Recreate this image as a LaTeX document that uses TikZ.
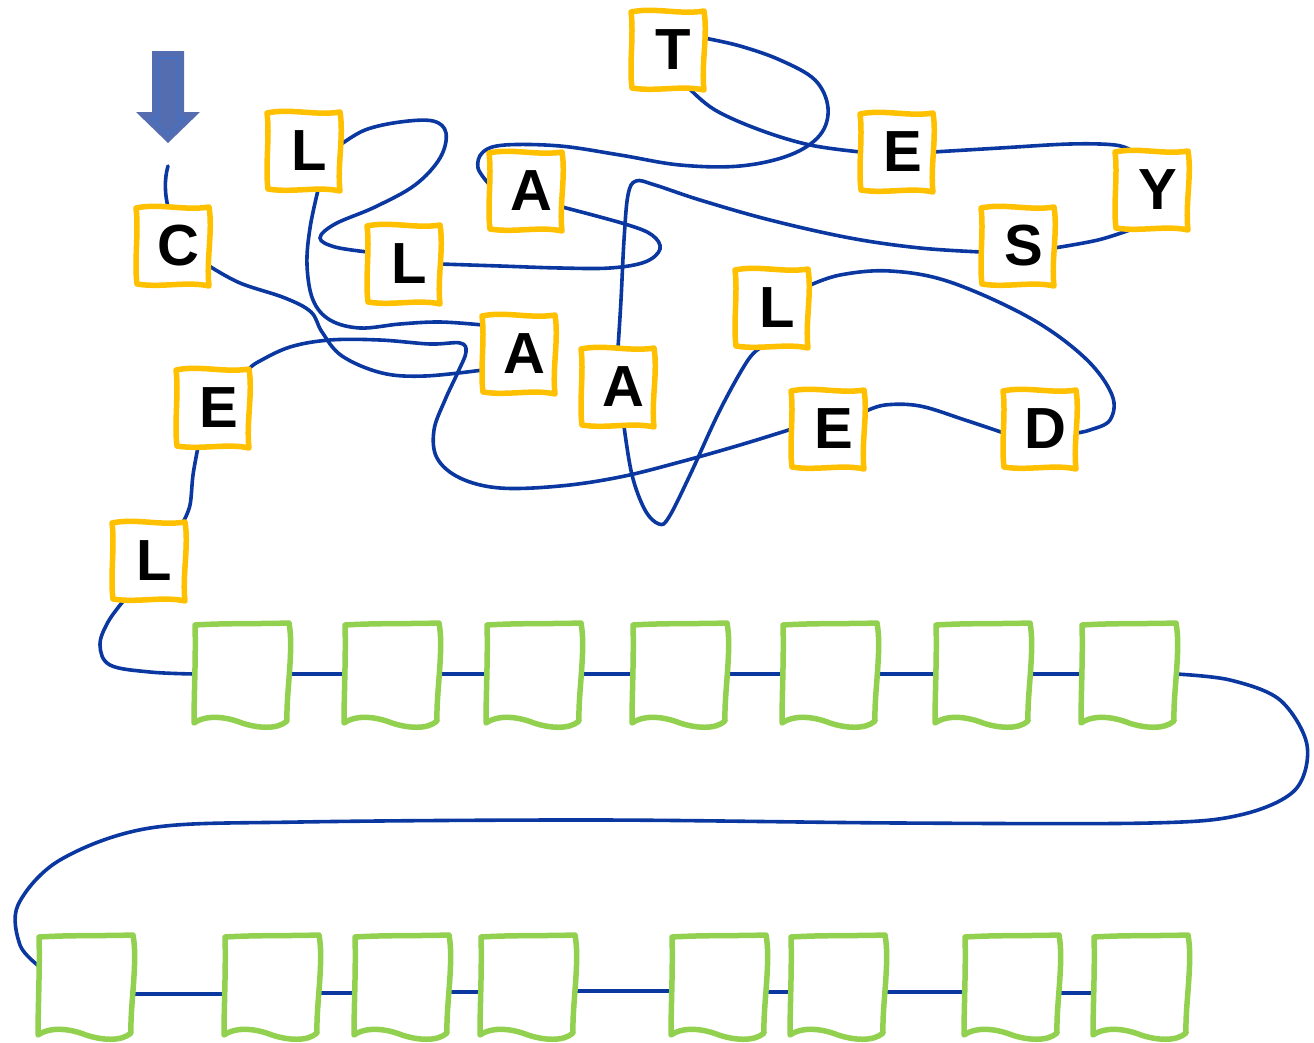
\documentclass[tikz,border=0pt]{standalone}
\usepackage{fontspec}
\setmainfont{Liberation Sans}
\usetikzlibrary{calc}
\definecolor{chain}{RGB}{10,55,160}
\definecolor{ybord}{RGB}{255,192,0}
\definecolor{gbord}{RGB}{146,208,80}
\definecolor{arrfill}{RGB}{84,108,176}
\definecolor{arrline}{RGB}{68,114,196}
\pgfdeclarelayer{bg}
\pgfdeclarelayer{boxes}
\pgfsetlayers{bg,boxes,main}
\tikzset{
  letter/.style={minimum width=72pt, minimum height=78pt, inner sep=0pt, font=\fontsize{58}{62}\selectfont\bfseries},
  slot/.style={minimum width=94pt, minimum height=102pt, inner sep=0pt},
  chainline/.style={draw=chain, line width=3.6pt, line cap=round},
  yframe/.style={draw=ybord, line width=5.5pt, fill=white, line join=round},
  gframe/.style={draw=gbord, line width=5.5pt, fill=white, line join=round},
}
\newcommand\drawYbox[1]{\begin{scope}[shift={(#1.center)}]
  \path[yframe] (-37,-38) .. controls (-14,-43) and (12,-35) .. (36,-39)
    .. controls (40,-15) and (33,15) .. (36,40)
    .. controls (14,35) and (-12,42) .. (-36,38)
    .. controls (-39,15) and (-34,-15) .. cycle;
\end{scope}}
\newcommand\drawGbox[1]{\begin{scope}[shift={(#1.center)}]
  \path[gframe] (-47,-49) .. controls (-15,-51) and (15,-50) .. (47,-51)
    .. controls (52,-25) and (44,20) .. (45,47)
    .. controls (35,56) and (15,54) .. (0,49)
    .. controls (-15,43) and (-35,40) .. (-48,49)
    .. controls (-48,20) and (-46,-20) .. cycle;
\end{scope}}
\newcommand\ltr[1]{\raisebox{-7pt}{\hspace*{11pt}#1}}
\begin{document}
\begin{tikzpicture}[x=1pt,y=-1pt]
\useasboundingbox (0,0) rectangle (1314,1042);
% letter nodes
\node[letter] (C)  at (173,246) {\ltr{C}};
\node[letter] (L1) at (304,151) {\ltr{L}};
\node[letter] (L2) at (404,264) {\ltr{L}};
\node[letter] (A1) at (526,191) {\ltr{A}};
\node[letter] (T)  at (668,50)  {\ltr{T}};
\node[letter] (E1) at (897,152) {\ltr{E}};
\node[letter] (Y)  at (1152,190) {\ltr{Y}};
\node[letter] (S)  at (1018,246) {\ltr{S}};
\node[letter] (L3) at (772,308) {\ltr{L}};
\node[letter] (A2) at (519,354) {\ltr{A}};
\node[letter] (A3) at (618,387) {\ltr{A}};
\node[letter] (E2) at (828,429) {\ltr{E}};
\node[letter] (D)  at (1040,429) {\ltr{D}};
\node[letter] (E3) at (213,408) {\ltr{E}};
\node[letter] (L4) at (149,561) {\ltr{L}};
% empty slots
\node[slot] (G1) at (242,674) {};
\node[slot] (G2) at (392,674) {};
\node[slot] (G3) at (534,674) {};
\node[slot] (G4) at (680,674) {};
\node[slot] (G5) at (830,674) {};
\node[slot] (G6) at (983,674) {};
\node[slot] (G7) at (1129,674) {};
\node[slot] (B1) at (86,986) {};
\node[slot] (B2) at (272,986) {};
\node[slot] (B3) at (402,986) {};
\node[slot] (B4) at (528,986) {};
\node[slot] (B5) at (719,986) {};
\node[slot] (B6) at (838,986) {};
\node[slot] (B7) at (1012,986) {};
\node[slot] (B8) at (1141,986) {};
% start arrow
\fill[arrfill] (152,51) -- (184,51) -- (184,112) -- (200,112) -- (168,143) -- (136,112) -- (152,112) -- cycle;
\draw[arrline, line width=1.5pt] (159,58) -- (177,58) -- (177,118) -- (185,118) -- (168,135) -- (151,118) -- (159,118) -- cycle;
\coordinate (start) at (168,166);
\begin{pgfonlayer}{bg}
\draw[chainline] (start) .. controls (164,180) and (165,195) .. ([xshift=-5pt]C.north);
% C -> A2
\draw[chainline] plot[smooth, tension=0.6] coordinates {([yshift=-20pt]C.east) (240,283) (285,298) (311,312) (322,332) (342,356) (382,373) (425,376) ([yshift=-16pt]A2.west)};
% A2 -> L1
\draw[chainline] plot[smooth, tension=0.6] coordinates {([yshift=29pt]A2.west) (440,322) (400,324) (360,328) (330,320) (313,300) (307,265) (310,228) ([xshift=14pt]L1.south)};
% L1 -> L2
\draw[chainline] plot[smooth, tension=0.6] coordinates {([yshift=6pt]L1.east) (365,130) (400,122) (433,121) (446,133) (440,158) (415,185) (375,207) (335,224) (320,238) (335,247) ([yshift=12pt]L2.west)};
% L2 -> A1
\draw[chainline] plot[smooth, tension=0.6] coordinates {(L2.east) (500,266) (560,268) (610,268) (645,262) (660,249) (652,235) (625,224) ([yshift=-16pt]A1.east)};
% A1 -> T
\draw[chainline] plot[smooth, tension=0.6] coordinates {([yshift=6pt]A1.west) (478,168) (483,152) (505,145) (560,146) (620,155) (680,165) (740,166) (790,155) (820,135) (828,108) (815,80) (780,60) (740,46) ([yshift=12pt]T.east)};
% T -> E1
\draw[chainline] plot[smooth, tension=0.6] coordinates {([xshift=22pt]T.south) (715,110) (760,130) (810,145) (E1.west)};
% E1 -> Y
\draw[chainline] plot[smooth, tension=0.6] coordinates {(E1.east) (1000,148) (1070,144) (1115,145) ([xshift=-20pt]Y.north)};
% Y -> S
\draw[chainline] plot[smooth, tension=0.6] coordinates {([xshift=-20pt]Y.south) (1098,240) ([yshift=-2pt]S.east)};
% S -> A3
\draw[chainline] plot[smooth, tension=0.6] coordinates {([yshift=-6pt]S.west) (920,248) (850,238) (770,220) (700,200) (655,185) (636,181) (628,195) (624,240) (621,300) (A3.north)};
% A3 -> L3
\draw[chainline] plot[smooth, tension=0.6] coordinates {([xshift=6pt]A3.south) (632,475) (645,510) (659,524) (669,517) (690,475) (720,410) (748,360) ([xshift=-10pt]L3.south)};
% L3 -> D
\draw[chainline] plot[smooth, tension=0.6] coordinates {([yshift=22pt]L3.east) (840,275) (890,271) (950,282) (1030,318) (1085,358) (1112,395) (1110,420) (1090,430) ([yshift=-4pt]D.east)};
% D -> E2
\draw[chainline] plot[smooth, tension=0.6] coordinates {([yshift=-4pt]D.west) (965,420) (920,406) (885,405) ([yshift=17pt]E2.east)};
% E2 -> E3
\draw[chainline] plot[smooth, tension=0.6] coordinates {(E2.west) (740,445) (680,462) (620,477) (560,486) (500,488) (460,478) (437,458) (434,430) (445,400) (458,372) (466,352) (460,343) (430,344) (380,340) (330,340) (290,347) (258,362) (E3.north east)};
% E3 -> L4
\draw[chainline] plot[smooth, tension=0.6] coordinates {([xshift=-15pt]E3.south) (193,475) (190,505) ([xshift=-2pt]L4.north east)};
% L4 -> G1
\draw[chainline] plot[smooth, tension=0.6] coordinates {([xshift=-25pt]L4.south) (108,622) (100,645) (110,665) (150,672) (G1.west)};
% top row
\draw[chainline] (G1.east) -- (G2.west) (G2.east) -- (G3.west) (G3.east) -- (G4.west)
  (G4.east) -- (G5.west) (G5.east) -- (G6.west) (G6.east) -- (G7.west);
% G7 -> B1
\draw[chainline] plot[smooth, tension=0.55] coordinates {(G7.east) (1230,680) (1280,700) (1307,745) (1295,790) (1240,815) (1150,823) (900,823) (600,820) (300,822) (150,828) (60,860) (18,905) (20,945) ([yshift=20pt]B1.west)};
% bottom row
\draw[chainline] ([yshift=-8pt]B1.east) -- ([yshift=-8pt]B2.west)
  ([yshift=-7pt]B2.east) -- ([yshift=-7pt]B3.west)
  ([yshift=-6pt]B3.east) -- ([yshift=-6pt]B4.west)
  ([yshift=-5pt]B4.east) -- ([yshift=-5pt]B5.west)
  ([yshift=-6pt]B5.east) -- ([yshift=-6pt]B6.west)
  ([yshift=-6pt]B6.east) -- ([yshift=-6pt]B7.west)
  ([yshift=-7pt]B7.east) -- ([yshift=-7pt]B8.west);
\end{pgfonlayer}
\begin{pgfonlayer}{boxes}
\foreach \n in {C,L1,L2,A1,T,E1,Y,S,L3,A2,A3,E2,D,E3,L4} {\drawYbox{\n}}
\foreach \n in {G1,G2,G3,G4,G5,G6,G7,B1,B2,B3,B4,B5,B6,B7,B8} {\drawGbox{\n}}
\end{pgfonlayer}
\end{tikzpicture}
\end{document}
